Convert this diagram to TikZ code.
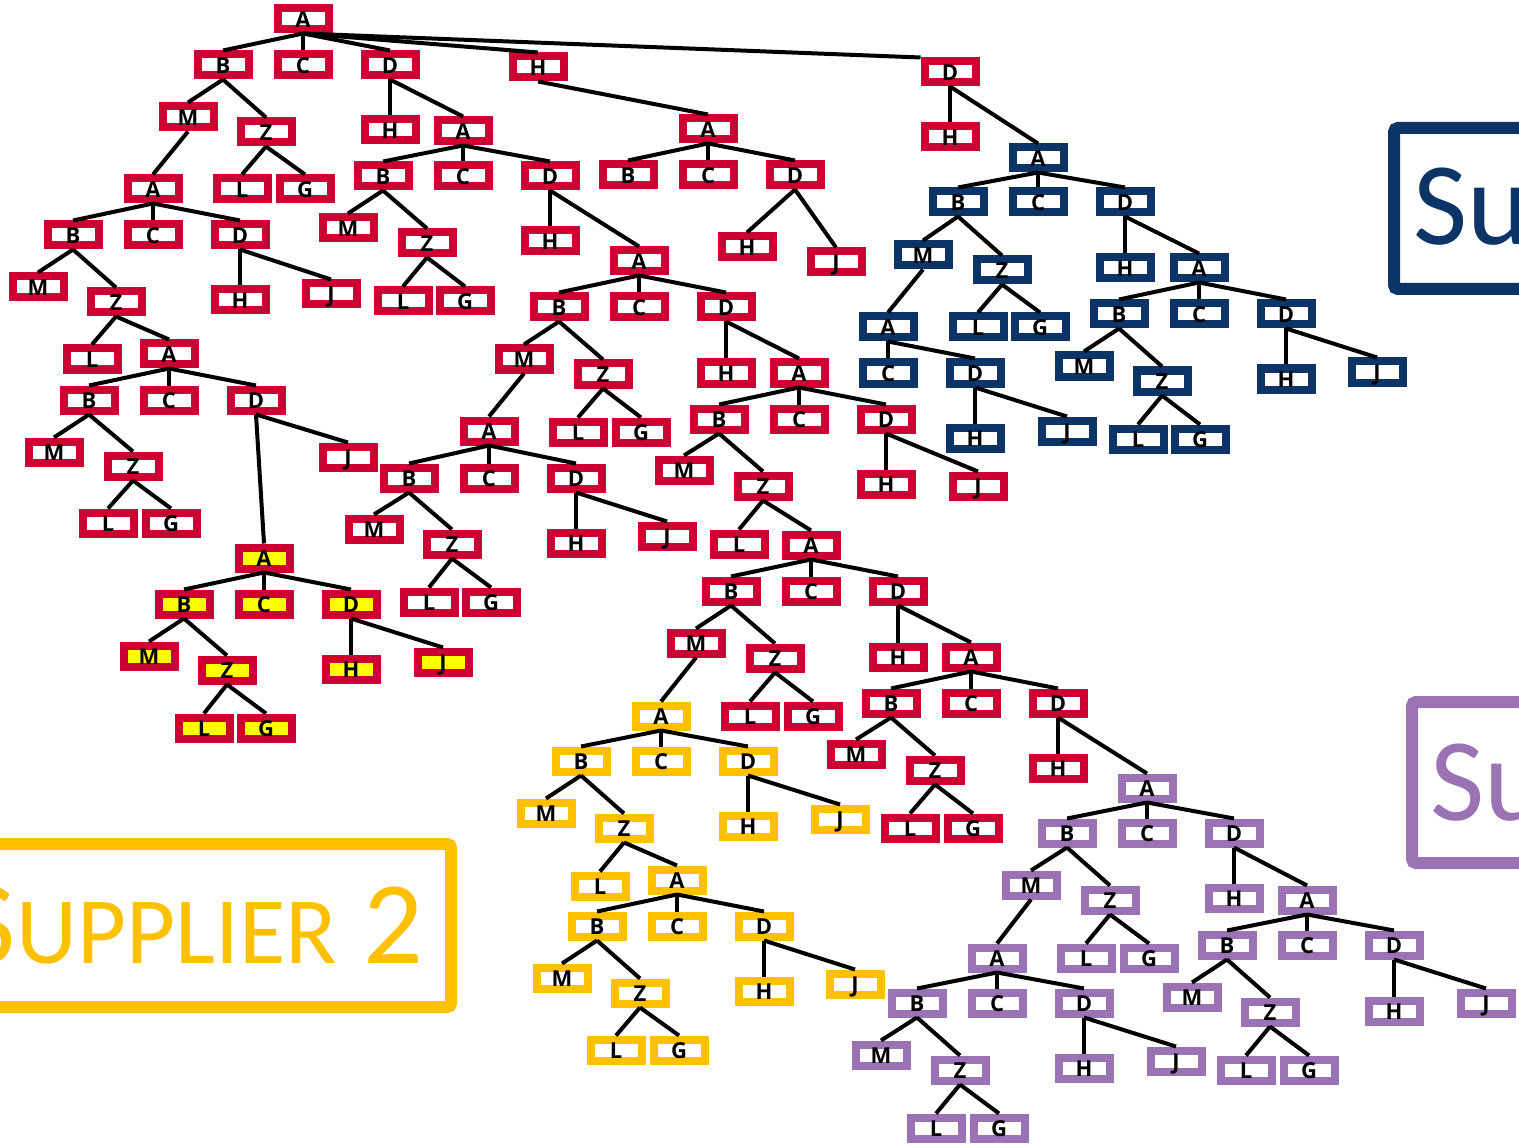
\documentclass[tikz,border=0pt]{standalone}
\usepackage{fontspec}
\newfontfamily\boxfont{Open Sans}
\newfontfamily\labfont{Carlito}
\definecolor{rd}{RGB}{204,0,51}
\definecolor{bl}{RGB}{12,52,102}
\definecolor{pu}{RGB}{155,115,180}
\definecolor{yl}{RGB}{255,192,0}
\definecolor{yf}{RGB}{255,255,0}
\tikzset{
  nd/.style={draw=#1, line width=4pt, minimum width=25.5pt, minimum height=10.5pt,
    inner sep=0pt, font=\boxfont\bfseries\fontsize{11}{12}\selectfont,
    text height=8.85pt, text depth=0pt, text=black},
  rb/.style={nd=rd},
  ry/.style={nd=rd, fill=yf},
  gb/.style={nd=yl},
  bb/.style={nd=bl},
  pb/.style={nd=pu},
  ed/.style={line width=2pt, draw=black},
  labbox/.style={line width=6pt, rounded corners=2pt},
  labtext/.style={inner sep=0pt, font=\labfont\fontsize{59}{60}\selectfont},
}
\begin{document}
\begin{tikzpicture}[x=0.5pt, y=-0.5pt]
\useasboundingbox (0,0) rectangle (1519,1144);
\clip (0,0) rectangle (1519,1144);
% ---------- supplier labels ----------
\draw[labbox, draw=bl] (1394,128) rectangle (1545,289);
\node[labtext, text=bl, anchor=base west] (lab1) at (1413,245) {Su};
\draw[labbox, draw=pu] (1412,702) rectangle (1545,863);
\node[labtext, text=pu, anchor=base west] (lab3) at (1430,820) {Su};
\draw[labbox, draw=yl] (-30,844) rectangle (451,1007);
\node[labtext, text=yl, anchor=base east] (lab2) at (424,963) {S{\fontsize{47.5}{50}\selectfont UPPLIER} 2};
% ---------- red tree ----------
\node[rb] (r0) at (303,19) {A};
\node[rb] (r1) at (223,65) {B};
\node[rb] (r2) at (303,65) {C};
\node[rb] (r3) at (390,65) {D};
\node[rb] (r4) at (538,67) {H};
\node[rb] (r5) at (950,72) {D};
\node[rb] (r1m) at (188,117) {M};
\node[rb] (r1z) at (266,132) {Z};
\node[rb] (r1zl) at (242,189) {L};
\node[rb] (r1zg) at (305,189) {G};
\node[rb] (a1) at (153,189) {A};
\node[rb] (a1b) at (73,235) {B};
\node[rb] (a1c) at (153,235) {C};
\node[rb] (a1d) at (240,235) {D};
\node[rb] (a1bm) at (38,287) {M};
\node[rb] (a1bz) at (116,302) {Z};
\node[rb] (a1dh) at (240,300) {H};
\node[rb] (a1dj) at (331,294) {J};
\node[rb] (a1bzl) at (92,359) {L};
\node[rb] (a2) at (169,354) {A};
\node[rb] (a2b) at (89,400) {B};
\node[rb] (a2c) at (169,400) {C};
\node[rb] (a2d) at (256,400) {D};
\node[rb] (a2bm) at (54,452) {M};
\node[rb] (a2bz) at (133,466) {Z};
\node[rb] (a2bzl) at (108,523) {L};
\node[rb] (a2bzg) at (171,523) {G};
\node[rb] (a2dj) at (348,457) {J};
\node[ry] (y0) at (264,558) {A};
\node[ry] (y0b) at (184,604) {B};
\node[ry] (y0c) at (264,604) {C};
\node[ry] (y0d) at (351,604) {D};
\node[ry] (y0bm) at (149,656) {M};
\node[ry] (y0bz) at (227,670) {Z};
\node[ry] (y0bzl) at (204,728) {L};
\node[ry] (y0bzg) at (266,728) {G};
\node[ry] (y0dh) at (351,669) {H};
\node[ry] (y0dj) at (443,662) {J};
\node[rb] (r3h) at (390,130) {H};
\node[rb] (b3) at (463,131) {A};
\node[rb] (b3b) at (383,176) {B};
\node[rb] (b3c) at (463,176) {C};
\node[rb] (b3d) at (550,176) {D};
\node[rb] (b3bm) at (348,228) {M};
\node[rb] (b3bz) at (427,243) {Z};
\node[rb] (b3bzl) at (403,301) {L};
\node[rb] (b3bzg) at (465,301) {G};
\node[rb] (b3dh) at (550,241) {H};
\node[rb] (b4) at (639,261) {A};
\node[rb] (b4b) at (559,307) {B};
\node[rb] (b4c) at (639,307) {C};
\node[rb] (b4d) at (726,307) {D};
\node[rb] (b4bm) at (524,359) {M};
\node[rb] (b4bz) at (603,374) {Z};
\node[rb] (b4bzl) at (578,432) {L};
\node[rb] (b4bzg) at (641,432) {G};
\node[rb] (b5) at (489,431) {A};
\node[rb] (b5b) at (409,478) {B};
\node[rb] (b5c) at (489,478) {C};
\node[rb] (b5d) at (576,478) {D};
\node[rb] (b5bm) at (374,529) {M};
\node[rb] (b5bz) at (452,544) {Z};
\node[rb] (b5bzl) at (429,602) {L};
\node[rb] (b5bzg) at (491,602) {G};
\node[rb] (b5dh) at (576,543) {H};
\node[rb] (b5dj) at (667,536) {J};
\node[rb] (b4dh) at (726,373) {H};
\node[rb] (b6) at (799,373) {A};
\node[rb] (b6b) at (719,419) {B};
\node[rb] (b6c) at (799,419) {C};
\node[rb] (b6d) at (886,419) {D};
\node[rb] (b6bm) at (684,470) {M};
\node[rb] (b6bz) at (763,486) {Z};
\node[rb] (b6dh) at (886,484) {H};
\node[rb] (b6dj) at (978,486) {J};
\node[rb] (b6bzl) at (739,544) {L};
\node[rb] (b7) at (811,545) {A};
\node[rb] (b7b) at (731,591) {B};
\node[rb] (b7c) at (811,591) {C};
\node[rb] (b7d) at (898,591) {D};
\node[rb] (b7bm) at (696,643) {M};
\node[rb] (b7bz) at (775,658) {Z};
\node[rb] (b7bzl) at (750,716) {L};
\node[rb] (b7bzg) at (813,716) {G};
\node[rb] (b7dh) at (898,657) {H};
\node[rb] (b8) at (971,657) {A};
\node[rb] (b8b) at (891,703) {B};
\node[rb] (b8c) at (971,703) {C};
\node[rb] (b8d) at (1058,703) {D};
\node[rb] (b8bm) at (856,754) {M};
\node[rb] (b8bz) at (935,770) {Z};
\node[rb] (b8bzl) at (910,828) {L};
\node[rb] (b8bzg) at (973,828) {G};
\node[rb] (b8dh) at (1058,768) {H};
\node[rb] (r4a) at (708,129) {A};
\node[rb] (r4ab) at (628,175) {B};
\node[rb] (r4ac) at (708,175) {C};
\node[rb] (r4ad) at (795,175) {D};
\node[rb] (r4adh) at (747,247) {H};
\node[rb] (r4adj) at (836,262) {J};
\node[rb] (r5h) at (950,137) {H};
% ---------- blue tree ----------
\node[bb] (u0) at (1038,158) {A};
\node[bb] (u0b) at (958,202) {B};
\node[bb] (u0c) at (1038,202) {C};
\node[bb] (u0d) at (1125,202) {D};
\node[bb] (u0bm) at (923,255) {M};
\node[bb] (u0bz) at (1002,270) {Z};
\node[bb] (u0bzl) at (978,327) {L};
\node[bb] (u0bzg) at (1040,327) {G};
\node[bb] (u1) at (888,327) {A};
\node[bb] (u1c) at (888,373) {C};
\node[bb] (u1d) at (975,373) {D};
\node[bb] (u1dh) at (975,438) {H};
\node[bb] (u1dj) at (1067,431) {J};
\node[bb] (u0dh) at (1125,268) {H};
\node[bb] (u2) at (1199,268) {A};
\node[bb] (u2b) at (1119,314) {B};
\node[bb] (u2c) at (1199,314) {C};
\node[bb] (u2d) at (1286,314) {D};
\node[bb] (u2bm) at (1084,366) {M};
\node[bb] (u2bz) at (1162,381) {Z};
\node[bb] (u2bzl) at (1138,439) {L};
\node[bb] (u2bzg) at (1200,439) {G};
\node[bb] (u2dh) at (1286,379) {H};
\node[bb] (u2dj) at (1377,372) {J};
% ---------- gold tree ----------
\node[gb] (g0) at (661,716) {A};
\node[gb] (g0b) at (581,761) {B};
\node[gb] (g0c) at (661,761) {C};
\node[gb] (g0d) at (748,761) {D};
\node[gb] (g0bm) at (546,813) {M};
\node[gb] (g0bz) at (624,828) {Z};
\node[gb] (g0bzl) at (600,886) {L};
\node[gb] (g1) at (677,880) {A};
\node[gb] (g0dh) at (748,826) {H};
\node[gb] (g0dj) at (840,819) {J};
\node[gb] (g1b) at (597,926) {B};
\node[gb] (g1c) at (677,926) {C};
\node[gb] (g1d) at (764,926) {D};
\node[gb] (g1bm) at (562,978) {M};
\node[gb] (g1bz) at (640,993) {Z};
\node[gb] (g1bzl) at (616,1050) {L};
\node[gb] (g1bzg) at (679,1050) {G};
\node[gb] (g1dh) at (764,991) {H};
\node[gb] (g1dj) at (855,984) {J};
% ---------- purple tree ----------
\node[pb] (p0) at (1147,788) {A};
\node[pb] (p0b) at (1067,833) {B};
\node[pb] (p0c) at (1147,833) {C};
\node[pb] (p0d) at (1234,833) {D};
\node[pb] (p0bm) at (1031,885) {M};
\node[pb] (p0bz) at (1110,900) {Z};
\node[pb] (p0bzl) at (1086,958) {L};
\node[pb] (p0bzg) at (1149,958) {G};
\node[pb] (p1) at (997,958) {A};
\node[pb] (p0dh) at (1234,898) {H};
\node[pb] (p2) at (1307,900) {A};
\node[pb] (p2b) at (1227,945) {B};
\node[pb] (p2c) at (1307,945) {C};
\node[pb] (p2d) at (1394,945) {D};
\node[pb] (p2bm) at (1192,997) {M};
\node[pb] (p2bz) at (1270,1012) {Z};
\node[pb] (p2bzl) at (1246,1070) {L};
\node[pb] (p2bzg) at (1309,1070) {G};
\node[pb] (p2dh) at (1394,1011) {H};
\node[pb] (p2dj) at (1486,1003) {J};
\node[pb] (p1b) at (917,1003) {B};
\node[pb] (p1c) at (997,1003) {C};
\node[pb] (p1d) at (1084,1003) {D};
\node[pb] (p1bm) at (881,1055) {M};
\node[pb] (p1bz) at (960,1070) {Z};
\node[pb] (p1bzl) at (936,1128) {L};
\node[pb] (p1bzg) at (999,1128) {G};
\node[pb] (p1dh) at (1084,1068) {H};
\node[pb] (p1dj) at (1176,1061) {J};
% ---------- connectors ----------
\draw[ed] (r0.south) -- (r5.north west);
\foreach \p/\c in {r0/r1, r0/r2, r0/r3, r0/r4,
  r1/r1m, r1/r1z, r1z/r1zl, r1z/r1zg, r1m/a1,
  a1/a1b, a1/a1c, a1/a1d, a1b/a1bm, a1b/a1bz, a1d/a1dh, a1d/a1dj,
  a1bz/a1bzl, a1bz/a2, a2/a2b, a2/a2c, a2/a2d, a2b/a2bm, a2b/a2bz,
  a2bz/a2bzl, a2bz/a2bzg, a2d/a2dj, a2d/y0,
  y0/y0b, y0/y0c, y0/y0d, y0b/y0bm, y0b/y0bz, y0bz/y0bzl, y0bz/y0bzg,
  y0d/y0dh, y0d/y0dj,
  r3/r3h, r3/b3, b3/b3b, b3/b3c, b3/b3d, b3b/b3bm, b3b/b3bz,
  b3bz/b3bzl, b3bz/b3bzg, b3d/b3dh, b3d/b4,
  b4/b4b, b4/b4c, b4/b4d, b4b/b4bm, b4b/b4bz, b4bz/b4bzl, b4bz/b4bzg,
  b4bm/b5, b5/b5b, b5/b5c, b5/b5d, b5b/b5bm, b5b/b5bz, b5bz/b5bzl,
  b5bz/b5bzg, b5d/b5dh, b5d/b5dj,
  b4d/b4dh, b4d/b6, b6/b6b, b6/b6c, b6/b6d, b6b/b6bm, b6b/b6bz,
  b6d/b6dh, b6d/b6dj, b6bz/b6bzl, b6bz/b7,
  b7/b7b, b7/b7c, b7/b7d, b7b/b7bm, b7b/b7bz, b7bz/b7bzl, b7bz/b7bzg,
  b7bm/g0, b7d/b7dh, b7d/b8,
  b8/b8b, b8/b8c, b8/b8d, b8b/b8bm, b8b/b8bz, b8bz/b8bzl, b8bz/b8bzg,
  b8d/b8dh, b8d/p0,
  r4/r4a, r4a/r4ab, r4a/r4ac, r4a/r4ad, r4ad/r4adh, r4ad/r4adj,
  r5/r5h, r5/u0,
  u0/u0b, u0/u0c, u0/u0d, u0b/u0bm, u0b/u0bz, u0bz/u0bzl, u0bz/u0bzg,
  u0bm/u1, u1/u1c, u1/u1d, u1d/u1dh, u1d/u1dj,
  u0d/u0dh, u0d/u2, u2/u2b, u2/u2c, u2/u2d, u2b/u2bm, u2b/u2bz,
  u2bz/u2bzl, u2bz/u2bzg, u2d/u2dh, u2d/u2dj,
  g0/g0b, g0/g0c, g0/g0d, g0b/g0bm, g0b/g0bz, g0bz/g0bzl, g0bz/g1,
  g0d/g0dh, g0d/g0dj, g1/g1b, g1/g1c, g1/g1d, g1b/g1bm, g1b/g1bz,
  g1bz/g1bzl, g1bz/g1bzg, g1d/g1dh, g1d/g1dj,
  p0/p0b, p0/p0c, p0/p0d, p0b/p0bm, p0b/p0bz, p0bz/p0bzl, p0bz/p0bzg,
  p0bm/p1, p0d/p0dh, p0d/p2,
  p2/p2b, p2/p2c, p2/p2d, p2b/p2bm, p2b/p2bz, p2bz/p2bzl, p2bz/p2bzg,
  p2d/p2dh, p2d/p2dj,
  p1/p1b, p1/p1c, p1/p1d, p1b/p1bm, p1b/p1bz, p1bz/p1bzl, p1bz/p1bzg,
  p1d/p1dh, p1d/p1dj}
  \draw[ed] (\p.south) -- (\c.north);
\end{tikzpicture}
\end{document}
